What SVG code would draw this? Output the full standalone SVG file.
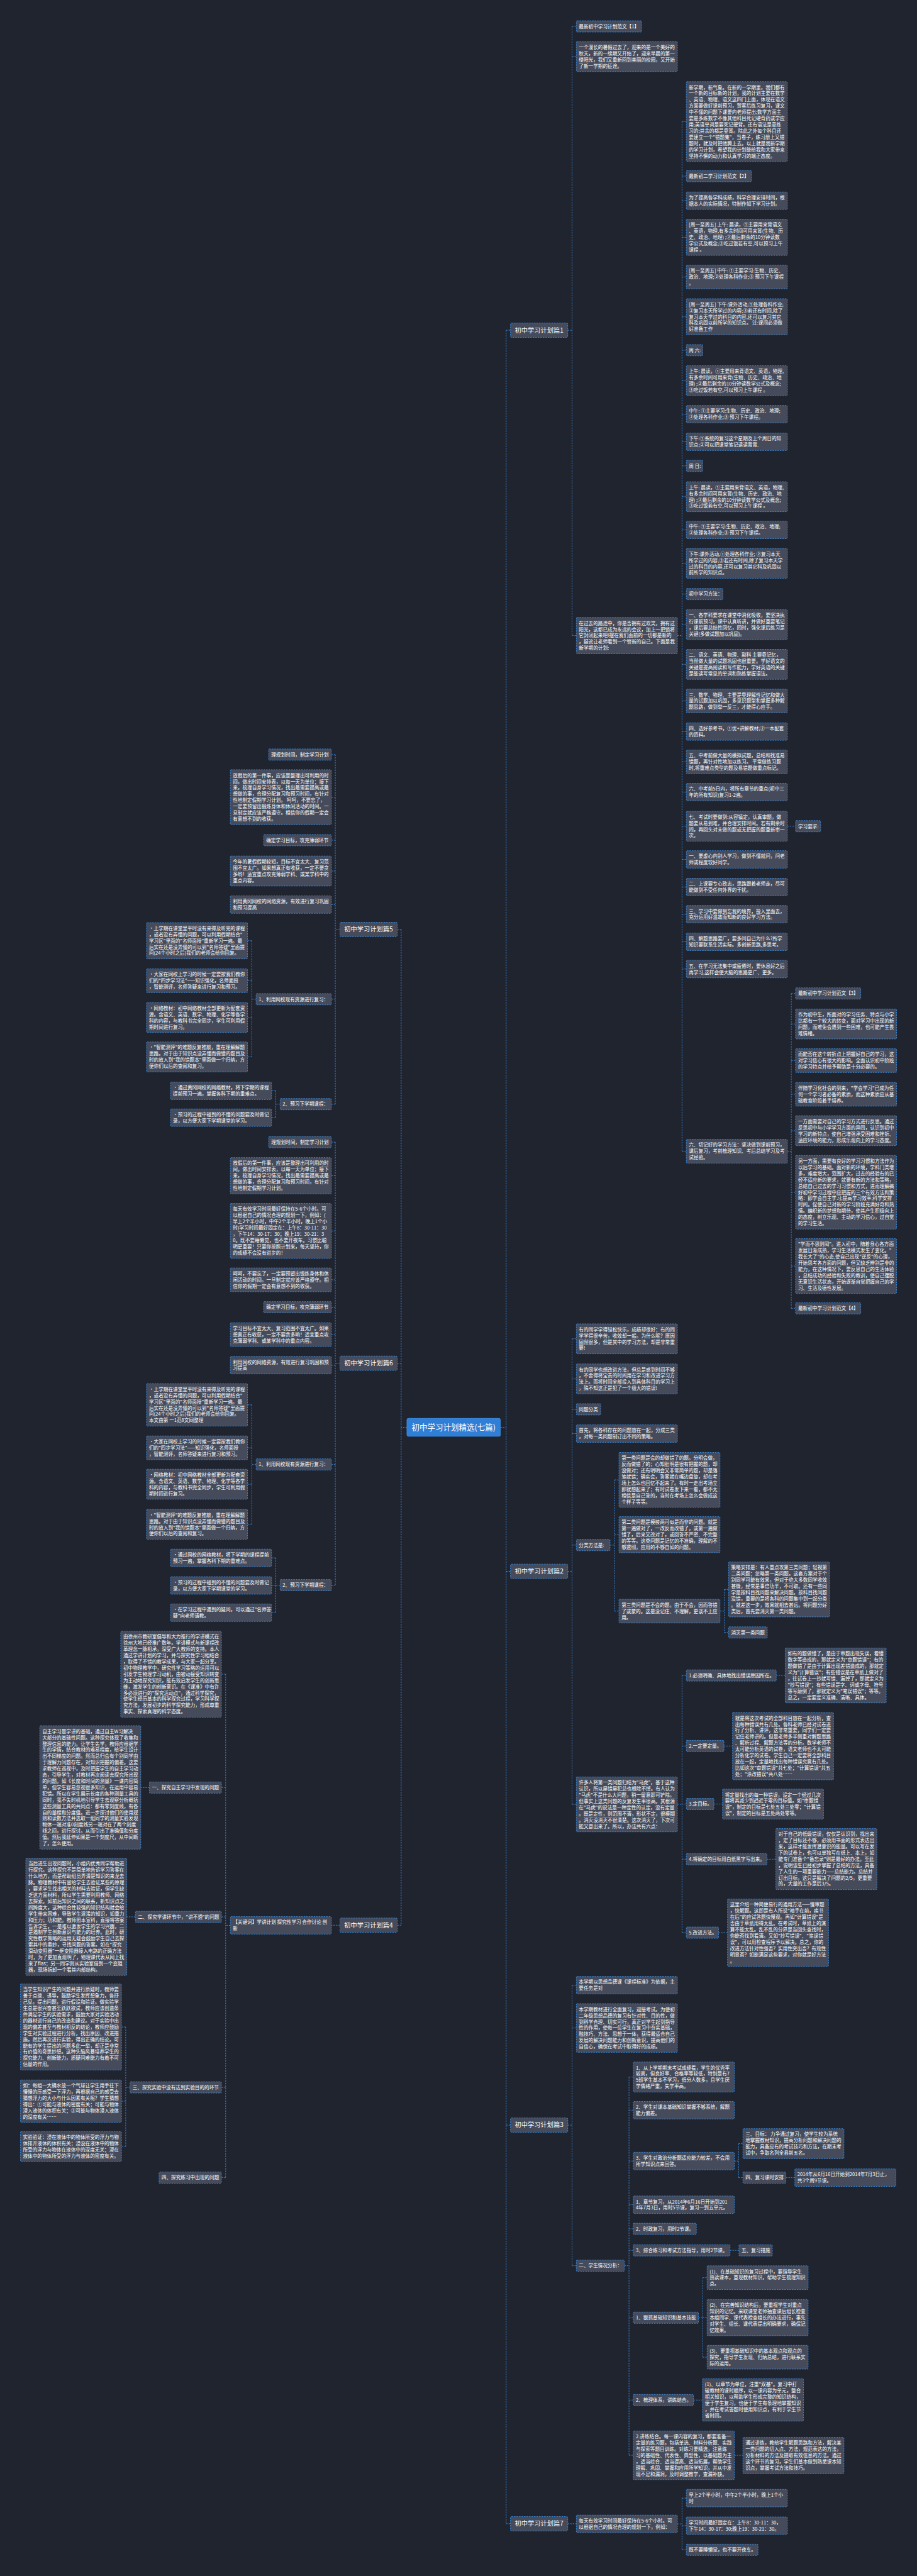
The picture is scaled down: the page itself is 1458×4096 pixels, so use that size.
<svg xmlns="http://www.w3.org/2000/svg" width="1458" height="4096" viewBox="0 0 1458 4096">
<style>
.n{fill:#454b5b;stroke:#3a8de0;stroke-width:1.6;stroke-dasharray:4 3}
.t{font-family:"Noto Sans CJK SC","Liberation Sans",sans-serif;font-size:13.4px;fill:#ffffff}
.c{fill:none;stroke:#3a8de0;stroke-width:1.6;stroke-dasharray:4 3}
.bt{font-size:18px;text-anchor:middle}
.root{fill:#2f7fd6;stroke:#3a8de0;stroke-width:1.6}
.rt{font-size:22px;text-anchor:middle}
</style>
<rect x="0" y="0" width="1458" height="4096" fill="#20242f"/>
<g transform="scale(0.569531)">
<g id="connectors">
<path class="c" d="M1397,3985H1413M1413,922V7046M1413,922H1425M1413,4387H1425M1413,5933H1425M1413,7046H1425"/>
<path class="c" d="M1136,3985H1120M1120,2595V5375M1120,2595H1109M1120,3806H1109M1120,5375H1109"/>
<path class="c" d="M1585,922H1597M1597,73.7V1774.5M1597,73.7H1609M1597,157.8H1609M1597,1774.5H1609"/>
<path class="c" d="M1891,1774.5H1904M1904,339.4V3214.1M1904,339.4H1916M1904,491.7H1916M1904,560.4H1916M1904,662.5H1916M1904,773.1H1916M1904,884.5H1916M1904,977.7H1916M1904,1062.8H1916M1904,1156.4H1916M1904,1233.4H1916M1904,1300.7H1916M1904,1386.8H1916M1904,1479.4H1916M1904,1572.8H1916M1904,1658.7H1916M1904,1743.8H1916M1904,1854.8H1916M1904,1957.1H1916M1904,2042.4H1916M1904,2127.1H1916M1904,2211.4H1916M1904,2306.8H1916M1904,2399.4H1916M1904,2476.4H1916M1904,2552.4H1916M1904,2629.4H1916M1904,2705.4H1916M1904,3214.1H1916"/>
<path class="c" d="M2198,2306.8H2221"/>
<path class="c" d="M2198,3214.1H2209M2209,2773.7V3652.7M2209,2773.7H2221M2209,2858.8H2221M2209,2961.1H2221M2209,3055.1H2221M2209,3156.8H2221M2209,3328.7H2221M2209,3534.6H2221M2209,3652.7H2221"/>
<path class="c" d="M1585,4387H1597M1597,3737.8V5037.6M1597,3737.8H1609M1597,3849.8H1609M1597,3934.7H1609M1597,4002.4H1609M1597,4313.7H1609M1597,5037.6H1609"/>
<path class="c" d="M1703,4313.7H1716M1716,4131.6V4498.1M1716,4131.6H1728M1716,4284.5H1728M1716,4498.1H1728"/>
<path class="c" d="M2010,4498.1H2022M2022,4437.6V4557.7M2022,4437.6H2034M2022,4557.7H2034"/>
<path class="c" d="M1891,5037.6H1904M1904,4677.7V5395.7M1904,4677.7H1916M1904,4874.7H1916M1904,5036.7H1916M1904,5190.7H1916M1904,5395.7H1916"/>
<path class="c" d="M2167,4677.7H2192M2021,4874.7H2045M1993,5036.7H2017M2141,5190.7H2166M2006,5395.7H2031"/>
<path class="c" d="M1585,5933H1597M1597,5542.4V6325.7M1597,5542.4H1609M1597,5661.9H1609M1597,6325.7H1609"/>
<path class="c" d="M1743,6325.7H1756M1756,5798.8V6854.9M1756,5798.8H1768M1756,5891.4H1768M1756,6033.4H1768M1756,6155.4H1768M1756,6222.7H1768M1756,6282.7H1768M1756,6470.7H1768M1756,6700.7H1768M1756,6854.9H1768"/>
<path class="c" d="M2050,6033.4H2062M2062,5984.8V6079.7M2062,5984.8H2074M2062,6079.7H2074M2194,6079.7H2219M2038,6282.7H2063"/>
<path class="c" d="M1950,6470.7H1962M1962,6359.1V6581.1M1962,6359.1H1974M1962,6470.5H1974M1962,6581.1H1974M1936,6700.7H1961M2050,6854.9H2074"/>
<path class="c" d="M1585,7046H1609M1891,7046.4H1904M1904,6974.4V7118.7M1904,6974.4H1916M1904,7051.4H1916M1904,7118.7H1916"/>
<path class="c" d="M949,2595H936M936,2106.7V3082.7M936,2106.7H925M936,2225.6H925M936,2345.7H925M936,2431.8H925M936,2525.4H925M936,2789.7H925M936,3082.7H925"/>
<path class="c" d="M715,2789.7H703M703,2626.5V2950.8M703,2626.5H691M703,2738.1H691M703,2840.8H691M703,2950.8H691"/>
<path class="c" d="M782,3082.7H770M770,3045.4V3120.4M770,3045.4H758M770,3120.4H758"/>
<path class="c" d="M949,3806H936M936,3188.7V4425.7M936,3188.7H925M936,3282.5H925M936,3436.6H925M936,3573.1H925M936,3649.7H925M936,3726.1H925M936,3811.4H925M936,4088.7H925M936,4425.7H925"/>
<path class="c" d="M715,4088.7H703M703,3922.2V4255.8M703,3922.2H691M703,4042.1H691M703,4143.8H691M703,4255.8H691"/>
<path class="c" d="M782,4425.7H770M770,4349.4V4502.4M770,4349.4H758M770,4426.4H758M770,4502.4H758"/>
<path class="c" d="M949,5375H925M643,5375.4H630M630,4674.1V6079.7M630,4674.1H618M630,4990.7H618M630,5351.7H618M630,5827.7H618M630,6079.7H618"/>
<path class="c" d="M417,4990.7H392M378,5351.7H354M363,5827.7H351M351,5659.1V5992.8M351,5659.1H339M351,5866.2H339M351,5992.8H339"/>
</g>

<g id="root"><rect class="root" x="1136" y="3960" width="261" height="50" rx="4"/><text class="t rt" x="1266.5" y="3993">初中学习计划精选(七篇)</text></g>
<g id="br1"><rect class="n" x="1425" y="902" width="160" height="40" rx="3"/><text class="t bt" x="1505" y="928">初中学习计划篇1</text></g>
<g id="br2"><rect class="n" x="1425" y="4367" width="160" height="40" rx="3"/><text class="t bt" x="1505" y="4393">初中学习计划篇2</text></g>
<g id="br3"><rect class="n" x="1425" y="5913" width="160" height="40" rx="3"/><text class="t bt" x="1505" y="5939">初中学习计划篇3</text></g>
<g id="br7"><rect class="n" x="1425" y="7026" width="160" height="40" rx="3"/><text class="t bt" x="1505" y="7052">初中学习计划篇7</text></g>
<g id="br5"><rect class="n" x="949" y="2575" width="160" height="40" rx="3"/><text class="t bt" x="1029" y="2601">初中学习计划篇5</text></g>
<g id="br6"><rect class="n" x="949" y="3786" width="160" height="40" rx="3"/><text class="t bt" x="1029" y="3812">初中学习计划篇6</text></g>
<g id="br4"><rect class="n" x="949" y="5355" width="160" height="40" rx="3"/><text class="t bt" x="1029" y="5381">初中学习计划篇4</text></g>

<g id="a1"><rect class="n" x="1609" y="58" width="182" height="31.4" rx="2"/><text class="t"><tspan x="1616" y="78.6">最新初中学习计划范文【1】</tspan></text></g>
<g id="a2"><rect class="n" x="1609" y="116" width="282" height="83.6" rx="2"/><text class="t"><tspan x="1616" y="136.6">一个漫长的暑假过去了，迎来的是一个美好的</tspan><tspan x="1616" dy="17.4">秋天，新的一续期又开始了，迎来早晨的第一</tspan><tspan x="1616" dy="17.4">缕阳光，我们又重新回到美丽的校园，又开始</tspan><tspan x="1616" dy="17.4">了新一学期的征途。</tspan></text></g>
<g id="a3"><rect class="n" x="1609" y="1724" width="282" height="101" rx="2"/><text class="t"><tspan x="1616" y="1744.6">在过去的路途中，你是否拥有过欢笑，拥有过</tspan><tspan x="1616" dy="17.4">阳光，这都已成为永远的会议，加上一把锁将</tspan><tspan x="1616" dy="17.4">它封闭起来吧!摆在我们面前的一切都是新的</tspan><tspan x="1616" dy="17.4">，疑讹让老师看到一个崭新的自己。下面是我</tspan><tspan x="1616" dy="17.4">新学期的计划:</tspan></text></g>
<g id="b1"><rect class="n" x="1916" y="228" width="282" height="222.8" rx="2"/><text class="t"><tspan x="1923" y="248.6">新学期，新气象。在新的一学期里，我们都有</tspan><tspan x="1923" dy="17.4">一个新的目标新的计划，我的计划主要在数学</tspan><tspan x="1923" dy="17.4">、英语、物理、语文这四门上面，体现在语文</tspan><tspan x="1923" dy="17.4">方面要做好课前预习，贺客后练习复习，课文</tspan><tspan x="1923" dy="17.4">中不懂的问题下课要向老师提出;数学方面主</tspan><tspan x="1923" dy="17.4">要是多练数学不像其他科目死记硬背药或学应</tspan><tspan x="1923" dy="17.4">用;英语单词是要死记硬背。还有语法是靠练</tspan><tspan x="1923" dy="17.4">习的;其余的都是靠背。除此之外每个科目还</tspan><tspan x="1923" dy="17.4">要建立一个"错题集"，当卷子，练习册上又错</tspan><tspan x="1923" dy="17.4">题时，就及时把他腾上去。以上就是我新学期</tspan><tspan x="1923" dy="17.4">的学习计划，希望我的计划能给我和大家带来</tspan><tspan x="1923" dy="17.4">坚持不懈的动力和认真学习的端正态度。</tspan></text></g>
<g id="b2"><rect class="n" x="1916" y="476" width="182" height="31.4" rx="2"/><text class="t"><tspan x="1923" y="496.6">最新初二学习计划范文【2】</tspan></text></g>
<g id="b3"><rect class="n" x="1916" y="536" width="282" height="48.8" rx="2"/><text class="t"><tspan x="1923" y="556.6">为了提高各学科成绩，科学合理安排时间，根</tspan><tspan x="1923" dy="17.4">据本人的实际情况，特制作如下学习计划。</tspan></text></g>
<g id="b4"><rect class="n" x="1916" y="612" width="282" height="101" rx="2"/><text class="t"><tspan x="1923" y="632.6">[周一至周五] 上午: 晨读，①主要用来背语文</tspan><tspan x="1923" dy="17.4">、英语，物理,有多余时间可用来背(生物、历</tspan><tspan x="1923" dy="17.4">史、政治、地理) ;②最后剩余的10分钟读数</tspan><tspan x="1923" dy="17.4">学公式及概念;③吃过饭若有空,可以预习上午</tspan><tspan x="1923" dy="17.4">课程 。</tspan></text></g>
<g id="b5"><rect class="n" x="1916" y="740" width="282" height="66.2" rx="2"/><text class="t"><tspan x="1923" y="760.6">[周一至周五] 中午: ①主要学习:生物、历史、</tspan><tspan x="1923" dy="17.4">政治、地理;②处理各科作业;③ 预习下午课程</tspan><tspan x="1923" dy="17.4">。</tspan></text></g>
<g id="b6"><rect class="n" x="1916" y="834" width="282" height="101" rx="2"/><text class="t"><tspan x="1923" y="854.6">[周一至周五] 下午:课外活动,①处理各科作业;</tspan><tspan x="1923" dy="17.4">②复习本天所学过的内容;③若还有时间,除了</tspan><tspan x="1923" dy="17.4">复习本天学过的科目的内容,还可以复习其它</tspan><tspan x="1923" dy="17.4">科及巩固以前所学的知识点。 注:课间必须做</tspan><tspan x="1923" dy="17.4">好准备工作</tspan></text></g>
<g id="b7"><rect class="n" x="1916" y="962" width="46" height="31.4" rx="2"/><text class="t"><tspan x="1923" y="982.6">周 六:</tspan></text></g>
<g id="b8"><rect class="n" x="1916" y="1021" width="282" height="83.6" rx="2"/><text class="t"><tspan x="1923" y="1041.6">上午: 晨读，①主要用来背语文、英语，物理,</tspan><tspan x="1923" dy="17.4">有多余时间可用来背(生物、历史、政治、地</tspan><tspan x="1923" dy="17.4">理) ;②最后剩余的10分钟读数学公式及概念;</tspan><tspan x="1923" dy="17.4">③吃过饭若有空,可以预习上午课程 。</tspan></text></g>
<g id="b9"><rect class="n" x="1916" y="1132" width="282" height="48.8" rx="2"/><text class="t"><tspan x="1923" y="1152.6">中午: ①主要学习:生物、历史、政治、地理;</tspan><tspan x="1923" dy="17.4">②处理各科作业;③ 预习下午课程。</tspan></text></g>
<g id="b10"><rect class="n" x="1916" y="1209" width="282" height="48.8" rx="2"/><text class="t"><tspan x="1923" y="1229.6">下午:①系统的复习这个星期及上个周日的知</tspan><tspan x="1923" dy="17.4">识点;②可以把课堂笔记读读背背.</tspan></text></g>
<g id="b11"><rect class="n" x="1916" y="1285" width="46" height="31.4" rx="2"/><text class="t"><tspan x="1923" y="1305.6">周 日:</tspan></text></g>
<g id="b12"><rect class="n" x="1916" y="1345" width="282" height="83.6" rx="2"/><text class="t"><tspan x="1923" y="1365.6">上午: 晨读，①主要用来背语文、英语，物理,</tspan><tspan x="1923" dy="17.4">有多余时间可用来背(生物、历史、政治、地</tspan><tspan x="1923" dy="17.4">理) ;②最后剩余的10分钟读数学公式及概念;</tspan><tspan x="1923" dy="17.4">③吃过饭若有空,可以预习上午课程 。</tspan></text></g>
<g id="b13"><rect class="n" x="1916" y="1455" width="282" height="48.8" rx="2"/><text class="t"><tspan x="1923" y="1475.6">中午: ①主要学习:生物、历史、政治、地理;</tspan><tspan x="1923" dy="17.4">②处理各科作业;③ 预习下午课程。</tspan></text></g>
<g id="b14"><rect class="n" x="1916" y="1531" width="282" height="83.6" rx="2"/><text class="t"><tspan x="1923" y="1551.6">下午:课外活动,①处理各科作业; ②复习本天</tspan><tspan x="1923" dy="17.4">所学过的内容;③若还有时间,除了复习本天学</tspan><tspan x="1923" dy="17.4">过的科目的内容,还可以复习其它科及巩固以</tspan><tspan x="1923" dy="17.4">前所学的知识点。</tspan></text></g>
<g id="b15"><rect class="n" x="1916" y="1643" width="102" height="31.4" rx="2"/><text class="t"><tspan x="1923" y="1663.6">初中学习方法：</tspan></text></g>
<g id="b16"><rect class="n" x="1916" y="1702" width="282" height="83.6" rx="2"/><text class="t"><tspan x="1923" y="1722.6">一、各学科要求在课堂中消化吸收，要坚决执</tspan><tspan x="1923" dy="17.4">行课前预习，课中认真听讲，并做好重要笔记</tspan><tspan x="1923" dy="17.4">，课后要总结性回忆，同时，强化课后练习是</tspan><tspan x="1923" dy="17.4">关键(多做试题加以巩固)。</tspan></text></g>
<g id="b17"><rect class="n" x="1916" y="1813" width="282" height="83.6" rx="2"/><text class="t"><tspan x="1923" y="1833.6">二、语文、英语、物理、副科 主要靠记忆，</tspan><tspan x="1923" dy="17.4">当然做大量的试题巩固也很重要。学好语文的</tspan><tspan x="1923" dy="17.4">关键是提高阅读和写作能力，学好英语的关键</tspan><tspan x="1923" dy="17.4">是能读写常见的单词和熟练掌握语法。</tspan></text></g>
<g id="b18"><rect class="n" x="1916" y="1924" width="282" height="66.2" rx="2"/><text class="t"><tspan x="1923" y="1944.6">三、数学、物理、主要是靠理解性记忆和做大</tspan><tspan x="1923" dy="17.4">量的试题加以巩固，多见识题型和掌握多种解</tspan><tspan x="1923" dy="17.4">题思路，做到举一反三，才能得心应手。</tspan></text></g>
<g id="b19"><rect class="n" x="1916" y="2018" width="282" height="48.8" rx="2"/><text class="t"><tspan x="1923" y="2038.6">四、选好参考书，①优+讲解教材;②一本配套</tspan><tspan x="1923" dy="17.4">的资料。</tspan></text></g>
<g id="b20"><rect class="n" x="1916" y="2094" width="282" height="66.2" rx="2"/><text class="t"><tspan x="1923" y="2114.6">五、中考前做大量的模拟试题，总结和找准易</tspan><tspan x="1923" dy="17.4">错题，再针对性地加以练习。 平常做练习题</tspan><tspan x="1923" dy="17.4">时,将重难点类型的题及易错题做重点标记。</tspan></text></g>
<g id="b21"><rect class="n" x="1916" y="2187" width="282" height="48.8" rx="2"/><text class="t"><tspan x="1923" y="2207.6">六、中考前5日内，将所有章节的重点(初中三</tspan><tspan x="1923" dy="17.4">年的所有知识)复习1-2遍。</tspan></text></g>
<g id="b22"><rect class="n" x="1916" y="2265" width="282" height="83.6" rx="2"/><text class="t"><tspan x="1923" y="2285.6">七、考试时要做到:从容镇定，认真审题，做</tspan><tspan x="1923" dy="17.4">题要从易到难，并合理安排时间。若有剩余时</tspan><tspan x="1923" dy="17.4">间，再回头对未做的题或无把握的题重新审一</tspan><tspan x="1923" dy="17.4">次。</tspan></text></g>
<g id="b22a"><rect class="n" x="2221" y="2291" width="70" height="31.4" rx="2"/><text class="t"><tspan x="2228" y="2311.6">学习要求:</tspan></text></g>
<g id="b23"><rect class="n" x="1916" y="2375" width="282" height="48.8" rx="2"/><text class="t"><tspan x="1923" y="2395.6">一、要虚心向别人学习，做到不懂就问，问老</tspan><tspan x="1923" dy="17.4">师或程度较好同学。</tspan></text></g>
<g id="b24"><rect class="n" x="1916" y="2452" width="282" height="48.8" rx="2"/><text class="t"><tspan x="1923" y="2472.6">二、上课要专心致志，思路跟着老师走，尽可</tspan><tspan x="1923" dy="17.4">能做到不受任何外界的干扰。</tspan></text></g>
<g id="b25"><rect class="n" x="1916" y="2528" width="282" height="48.8" rx="2"/><text class="t"><tspan x="1923" y="2548.6">三、学习中要做到忘我的境界，投入里面去，</tspan><tspan x="1923" dy="17.4">充分运用好温故而知新的良好学习方法。</tspan></text></g>
<g id="b26"><rect class="n" x="1916" y="2605" width="282" height="48.8" rx="2"/><text class="t"><tspan x="1923" y="2625.6">四、解题思路要广，要多问自己为什么?所学</tspan><tspan x="1923" dy="17.4">知识要联系生活实际。多创新思路,多思考。</tspan></text></g>
<g id="b27"><rect class="n" x="1916" y="2681" width="282" height="48.8" rx="2"/><text class="t"><tspan x="1923" y="2701.6">五、在学习无法集中或疲倦时，要休息好之后</tspan><tspan x="1923" dy="17.4">再学习,这样会使大脑的思路更广、更多。</tspan></text></g>
<g id="b28"><rect class="n" x="1916" y="3181" width="282" height="66.2" rx="2"/><text class="t"><tspan x="1923" y="3201.6">六、切记好的学习方法：坚决做到课前预习，</tspan><tspan x="1923" dy="17.4">课后复习，考前梳理知识、考后总结学习及考</tspan><tspan x="1923" dy="17.4">试经验。</tspan></text></g>
<g id="c1"><rect class="n" x="2221" y="2758" width="182" height="31.4" rx="2"/><text class="t"><tspan x="2228" y="2778.6">最新初中学习计划范文【3】</tspan></text></g>
<g id="c2"><rect class="n" x="2221" y="2817" width="282" height="83.6" rx="2"/><text class="t"><tspan x="2228" y="2837.6">作为初中生，所面对的学习任务、特点与小学</tspan><tspan x="2228" dy="17.4">比都有一个较大的转变，面对学习中出现的新</tspan><tspan x="2228" dy="17.4">问题，而难免会遇到一些困难，也可能产生畏</tspan><tspan x="2228" dy="17.4">难情绪。</tspan></text></g>
<g id="c3"><rect class="n" x="2221" y="2928" width="282" height="66.2" rx="2"/><text class="t"><tspan x="2228" y="2948.6">而能否在这个转折点上把握好自己的学习，这</tspan><tspan x="2228" dy="17.4">对学习信心有很大的影响。全面认识初中阶段</tspan><tspan x="2228" dy="17.4">的学习特点并给予帮助是十分必要的。</tspan></text></g>
<g id="c4"><rect class="n" x="2221" y="3022" width="282" height="66.2" rx="2"/><text class="t"><tspan x="2228" y="3042.6">伴随学习化社会的到来，"学会学习"已成为任</tspan><tspan x="2228" dy="17.4">何一个学习者必备的素质，而这种素质应从基</tspan><tspan x="2228" dy="17.4">础教育阶段着手培养。</tspan></text></g>
<g id="c5"><rect class="n" x="2221" y="3115" width="282" height="83.6" rx="2"/><text class="t"><tspan x="2228" y="3135.6">一方面需要对自己的学习方式进行反思。通过</tspan><tspan x="2228" dy="17.4">反思初中与小学学习方面的异同，认识到初中</tspan><tspan x="2228" dy="17.4">学习的新特点，使自己增强承受困难和挫折、</tspan><tspan x="2228" dy="17.4">适应环境的能力，形成乐观向上的学习态度。</tspan></text></g>
<g id="c6"><rect class="n" x="2221" y="3226" width="282" height="205.4" rx="2"/><text class="t"><tspan x="2228" y="3246.6">另一方面，需要有良好的学习习惯和方法作为</tspan><tspan x="2228" dy="17.4">以后学习的基础。面对新的环境，学科门类增</tspan><tspan x="2228" dy="17.4">多，难度增大，范围扩大，过去的经验有的已</tspan><tspan x="2228" dy="17.4">经不适应新的要求，就要有新的方法和策略，</tspan><tspan x="2228" dy="17.4">总结自己过去的学习习惯和方式，进而理解搞</tspan><tspan x="2228" dy="17.4">好初中学习过程中应把握的三个有效方法和策</tspan><tspan x="2228" dy="17.4">略：即学会自主学习;提高学习效率;科学安排</tspan><tspan x="2228" dy="17.4">时间。促使自己对新的学习阶段充满好奇和热</tspan><tspan x="2228" dy="17.4">情。编织新的梦想和期待，使其产生积极向上</tspan><tspan x="2228" dy="17.4">的态度，树立乐观、主动的学习信心，过自觉</tspan><tspan x="2228" dy="17.4">的学习生活。</tspan></text></g>
<g id="c7"><rect class="n" x="2221" y="3458" width="282" height="153.2" rx="2"/><text class="t"><tspan x="2228" y="3478.6">"学而不思则罔"。进入初中，随着身心各方面</tspan><tspan x="2228" dy="17.4">发展日渐成熟，学习生活模式发生了变化。"</tspan><tspan x="2228" dy="17.4">我长大了"的心态,使自己出现"逆反"的心理，</tspan><tspan x="2228" dy="17.4">开始思考各方面的问题，但又缺乏辨别是非的</tspan><tspan x="2228" dy="17.4">能力，在这种情况下，要反思自己的生活体验</tspan><tspan x="2228" dy="17.4">，总结成功的经验和失败的教训，使自己摆脱</tspan><tspan x="2228" dy="17.4">无意识生活状态，开始逐渐自觉把握自己的学</tspan><tspan x="2228" dy="17.4">习、生活及德性发展。</tspan></text></g>
<g id="c8"><rect class="n" x="2221" y="3637" width="182" height="31.4" rx="2"/><text class="t"><tspan x="2228" y="3657.6">最新初中学习计划范文【4】</tspan></text></g>

<g id="d1"><rect class="n" x="1609" y="3696" width="282" height="83.6" rx="2"/><text class="t"><tspan x="1616" y="3716.6">有的同学学得轻松快乐，成绩却很好；有的同</tspan><tspan x="1616" dy="17.4">学学得很辛苦，收效却一般。为什么呢？原因</tspan><tspan x="1616" dy="17.4">固然很多，但是其中的学习方法，却是非常重</tspan><tspan x="1616" dy="17.4">要!</tspan></text></g>
<g id="d2"><rect class="n" x="1609" y="3808" width="282" height="83.6" rx="2"/><text class="t"><tspan x="1616" y="3828.6">有的同学也想改进方法，但总是感到时间不够</tspan><tspan x="1616" dy="17.4">，不舍得将宝贵的时间用在学习和改进学习方</tspan><tspan x="1616" dy="17.4">法上。而将时间全部投入到具体科目的学习上</tspan><tspan x="1616" dy="17.4">，殊不知这正是犯了一个极大的错误!</tspan></text></g>
<g id="d3"><rect class="n" x="1609" y="3919" width="68" height="31.4" rx="2"/><text class="t"><tspan x="1616" y="3939.6">问题分类</tspan></text></g>
<g id="d4"><rect class="n" x="1609" y="3978" width="282" height="48.8" rx="2"/><text class="t"><tspan x="1616" y="3998.6">首先，将各科存在的问题放在一起，分成三类</tspan><tspan x="1616" dy="17.4">，对每一类问题制订出不同的策略。</tspan></text></g>
<g id="d5"><rect class="n" x="1609" y="4298" width="94" height="31.4" rx="2"/><text class="t"><tspan x="1616" y="4318.6">分类方法是:</tspan></text></g>
<g id="e1"><rect class="n" x="1728" y="4055" width="282" height="153.2" rx="2"/><text class="t"><tspan x="1735" y="4075.6">第一类问题是会的却做错了的题。分明会做，</tspan><tspan x="1735" dy="17.4">反而做错了的；心知肚明是很有把握的题，却</tspan><tspan x="1735" dy="17.4">没做对；还有明明会又非常简单的题，却是落</tspan><tspan x="1735" dy="17.4">笔就错；确实会，答案就在嘴边盘旋，却在考</tspan><tspan x="1735" dy="17.4">场上怎么也回忆不起来了。有时一走出考场立</tspan><tspan x="1735" dy="17.4">即就想起来了；有时试卷发下来一看，都不太</tspan><tspan x="1735" dy="17.4">相信是自己答的，当时在考场上怎么会做成这</tspan><tspan x="1735" dy="17.4">个样子等等。</tspan></text></g>
<g id="e2"><rect class="n" x="1728" y="4234" width="282" height="101" rx="2"/><text class="t"><tspan x="1735" y="4254.6">第二类问题是模棱两可似是而非的问题。就是</tspan><tspan x="1735" dy="17.4">第一遍做对了，一改反而改错了，或第一遍做</tspan><tspan x="1735" dy="17.4">错了，后来又改对了，或回答不严密、不完整</tspan><tspan x="1735" dy="17.4">的等等。这类问题是记忆的不准确，理解的不</tspan><tspan x="1735" dy="17.4">够透彻，应用的不够自如的问题。</tspan></text></g>
<g id="e3"><rect class="n" x="1728" y="4465" width="282" height="66.2" rx="2"/><text class="t"><tspan x="1735" y="4485.6">第三类问题是不会的题。由于不会，因而答错</tspan><tspan x="1735" dy="17.4">了或蒙的。这是没记住、不理解，更谈不上应</tspan><tspan x="1735" dy="17.4">用。</tspan></text></g>
<g id="f1"><rect class="n" x="2034" y="4361" width="282" height="153.2" rx="2"/><text class="t"><tspan x="2041" y="4381.6">策略安排是：有人重点攻第三类问题；轻视第</tspan><tspan x="2041" dy="17.4">二类问题；忽略第一类问题。这套方案对于个</tspan><tspan x="2041" dy="17.4">别同学可能有效果，但对于绝大多数同学收效</tspan><tspan x="2041" dy="17.4">甚微，经常是事倍功半，不可取。还有一些同</tspan><tspan x="2041" dy="17.4">学是按科目找问题来解决问题。按科目找问题</tspan><tspan x="2041" dy="17.4">没错，重要的是将各科的问题集中到一起分类</tspan><tspan x="2041" dy="17.4">。就差这一步，效果就相去甚远。将问题分好</tspan><tspan x="2041" dy="17.4">类后，首先要消灭第一类问题。</tspan></text></g>
<g id="f2"><rect class="n" x="2034" y="4542" width="108" height="31.4" rx="2"/><text class="t"><tspan x="2041" y="4562.6">消灭第一类问题</tspan></text></g>
<g id="d6"><rect class="n" x="1609" y="4961" width="282" height="153.2" rx="2"/><text class="t"><tspan x="1616" y="4981.6">许多人将第一类问题归结为"马虎"，基于这种</tspan><tspan x="1616" dy="17.4">认识，所以屡错屡犯总也根除不掉。有人认为</tspan><tspan x="1616" dy="17.4">"马虎"不是什么大问题，稍一留意即可铲除。</tspan><tspan x="1616" dy="17.4">但事实上这类问题的反复发生率很高。其根源</tspan><tspan x="1616" dy="17.4">在"马虎"的说法是一种定性的认定，没有定量</tspan><tspan x="1616" dy="17.4">。既是定性，则范围不清，形状不定，很模糊</tspan><tspan x="1616" dy="17.4">。消灭没消灭不很清楚。这次消灭了，下次可</tspan><tspan x="1616" dy="17.4">能又冒出来了。所以，办法共有六点：</tspan></text></g>
<g id="g1"><rect class="n" x="1916" y="4662" width="251" height="31.4" rx="2"/><text class="t"><tspan x="1923" y="4682.6">1.必须明确、具体地找出错误原因所在。</tspan></text></g>
<g id="h1"><rect class="n" x="2192" y="4601" width="282" height="153.2" rx="2"/><text class="t"><tspan x="2199" y="4621.6">如有的题做错了，是由于审题出现失误，看错</tspan><tspan x="2199" dy="17.4">数字等造成的，那就定义为"审题错误"；有的</tspan><tspan x="2199" dy="17.4">题做错了是由于计算出现差错造成的，那就定</tspan><tspan x="2199" dy="17.4">义为"计算错误"；有些错误是在草纸上做对了</tspan><tspan x="2199" dy="17.4">，往试卷上一抄就写错、漏掉了，那就定义为</tspan><tspan x="2199" dy="17.4">"抄写错误"；有些错误是字、词或字母、符号</tspan><tspan x="2199" dy="17.4">等写颠倒了，那就定义为"笔误错误"；等等。</tspan><tspan x="2199" dy="17.4">总之，一定要定义准确、清晰、具体。</tspan></text></g>
<g id="g2"><rect class="n" x="1916" y="4859" width="105" height="31.4" rx="2"/><text class="t"><tspan x="1923" y="4879.6">2.一定要定量。</tspan></text></g>
<g id="h2"><rect class="n" x="2045" y="4781" width="282" height="188" rx="2"/><text class="t"><tspan x="2052" y="4801.6">就是将这次考试的全部科目放在一起分析，查</tspan><tspan x="2052" dy="17.4">出每种错误共有几处。各科老师已经对试卷进</tspan><tspan x="2052" dy="17.4">行了分析、讲评，这非常重要，同学们一定要</tspan><tspan x="2052" dy="17.4">记住老师讲的。但是老师多半侧重对解题思路</tspan><tspan x="2052" dy="17.4">、解析过程、解题方法等的分析。数学老师不</tspan><tspan x="2052" dy="17.4">太可能分析英语的试卷，语文老师也不太可能</tspan><tspan x="2052" dy="17.4">分析化学的试卷。学生自己一定要将全部科目</tspan><tspan x="2052" dy="17.4">放在一起，定量地找出每种错误究竟有几处。</tspan><tspan x="2052" dy="17.4">比如这次"审题错误"共七处；"计算错误"共五</tspan><tspan x="2052" dy="17.4">处；"涂改错误"共八处……</tspan></text></g>
<g id="g3"><rect class="n" x="1916" y="5021" width="77" height="31.4" rx="2"/><text class="t"><tspan x="1923" y="5041.6">3.定目标。</tspan></text></g>
<g id="h3"><rect class="n" x="2017" y="4995" width="282" height="83.6" rx="2"/><text class="t"><tspan x="2024" y="5015.6">将定量找出的每一种错误，设定一个经过几次</tspan><tspan x="2024" dy="17.4">要将其减少到趋近于零的目标值。如"审题错</tspan><tspan x="2024" dy="17.4">误"，制定的目标是七处五处三处零；"计算错</tspan><tspan x="2024" dy="17.4">误"，制定的目标是五处两处零等。</tspan></text></g>
<g id="g4"><rect class="n" x="1916" y="5175" width="225" height="31.4" rx="2"/><text class="t"><tspan x="1923" y="5195.6">4.将确定的目标用白纸黑字写出来。</tspan></text></g>
<g id="h4"><rect class="n" x="2166" y="5105" width="282" height="170.6" rx="2"/><text class="t"><tspan x="2173" y="5125.6">对于自己的低级错误，仅仅是认识到，找出来</tspan><tspan x="2173" dy="17.4">，定了目标还不够，必须用书面的形式表达出</tspan><tspan x="2173" dy="17.4">来，这样才能发挥潜意识的能量。可以写在发</tspan><tspan x="2173" dy="17.4">下的试卷上，也可以单独写在纸上、本上，如</tspan><tspan x="2173" dy="17.4">能专门准备个"备忘录"则是最好的办法。至此</tspan><tspan x="2173" dy="17.4">，说明该生已经初步掌握了总结的方法，具备</tspan><tspan x="2173" dy="17.4">了人生的一项重要能力——总结能力。总结并</tspan><tspan x="2173" dy="17.4">订出目标，这只是解决了问题的2/5，更重要</tspan><tspan x="2173" dy="17.4">的，大量的工作是后3/5。</tspan></text></g>
<g id="g5"><rect class="n" x="1916" y="5380" width="90" height="31.4" rx="2"/><text class="t"><tspan x="1923" y="5400.6">5.改进方法。</tspan></text></g>
<g id="h5"><rect class="n" x="2031" y="5302" width="282" height="188" rx="2"/><text class="t"><tspan x="2038" y="5322.6">这里介绍一种简便易行的通用方法——慢审题</tspan><tspan x="2038" dy="17.4">，快解题。这即是有人所说"袖手在前，疾书</tspan><tspan x="2038" dy="17.4">在后"的应试答题快慢观。再如"计算错误"是</tspan><tspan x="2038" dy="17.4">否由于草纸用得太乱。在考试时，草纸上的演</tspan><tspan x="2038" dy="17.4">算不能太乱。乱不乱的分界是当回头查找时，</tspan><tspan x="2038" dy="17.4">你能否找到看清。又如"抄写错误"、"笔误错</tspan><tspan x="2038" dy="17.4">误"，可以用检查程序予以解决。总之，你的</tspan><tspan x="2038" dy="17.4">改进方法针对性强否？实用性突出否？有效性</tspan><tspan x="2038" dy="17.4">明显否？如能满足这些要求，对你就是好方法</tspan><tspan x="2038" dy="17.4">。</tspan></text></g>

<g id="i1"><rect class="n" x="1609" y="5518" width="282" height="48.8" rx="2"/><text class="t"><tspan x="1616" y="5538.6">本学期以思想品德课《课程标准》为依据，主</tspan><tspan x="1616" dy="17.4">要任务是对</tspan></text></g>
<g id="i2"><rect class="n" x="1609" y="5594" width="282" height="135.8" rx="2"/><text class="t"><tspan x="1616" y="5614.6">本学期教材进行全面复习，迎接考试。为使初</tspan><tspan x="1616" dy="17.4">二年级思想品德的复习有针对性、目的性，做</tspan><tspan x="1616" dy="17.4">到科学合理、切实可行，真正对学生起到指导</tspan><tspan x="1616" dy="17.4">性的作用，使每一位学生在复习中夯实基础，</tspan><tspan x="1616" dy="17.4">融技巧、方法、思想于一体，获得最适合自己</tspan><tspan x="1616" dy="17.4">发展的解决问题能力和创新意识，提高他们的</tspan><tspan x="1616" dy="17.4">自信心，确保在考试中取得好的成绩。</tspan></text></g>
<g id="i3"><rect class="n" x="1609" y="6310" width="134" height="31.4" rx="2"/><text class="t"><tspan x="1616" y="6330.6">二、学生情况分析：</tspan></text></g>
<g id="j1"><rect class="n" x="1768" y="5757" width="282" height="83.6" rx="2"/><text class="t"><tspan x="1775" y="5777.6">1、从上学期期末考试成绩看，学生的优秀率</tspan><tspan x="1775" dy="17.4">较高，但良好率、合格率等较低，特别是有7</tspan><tspan x="1775" dy="17.4">5班学生基本不学习，低分人数多，且学生厌</tspan><tspan x="1775" dy="17.4">学情绪严重，失学率高。</tspan></text></g>
<g id="j2"><rect class="n" x="1768" y="5867" width="282" height="48.8" rx="2"/><text class="t"><tspan x="1775" y="5887.6">2、学生对课本基础知识掌握不够系统，解题</tspan><tspan x="1775" dy="17.4">能力偏差。</tspan></text></g>
<g id="j3"><rect class="n" x="1768" y="6009" width="282" height="48.8" rx="2"/><text class="t"><tspan x="1775" y="6029.6">3、学生对政治分析题适应能力较差，不会用</tspan><tspan x="1775" dy="17.4">所学知识点来回答。</tspan></text></g>
<g id="k1"><rect class="n" x="2074" y="5943" width="282" height="83.6" rx="2"/><text class="t"><tspan x="2081" y="5963.6">三、目标： 力争通过复习，使学生较为系统</tspan><tspan x="2081" dy="17.4">地掌握教材知识，提高分析问题和解决问题的</tspan><tspan x="2081" dy="17.4">能力，具备应有的考试技巧和方法，在期末考</tspan><tspan x="2081" dy="17.4">试中，争取名列全县前五名。</tspan></text></g>
<g id="k2"><rect class="n" x="2074" y="6064" width="120" height="31.4" rx="2"/><text class="t"><tspan x="2081" y="6084.6">四、复习课时安排</tspan></text></g>
<g id="l1"><rect class="n" x="2219" y="6055.3" width="282" height="48.8" rx="2"/><text class="t"><tspan x="2226" y="6075.9">2014年从6月16日开始到2014年7月3日止，</tspan><tspan x="2226" dy="17.4">共3个周9节课。</tspan></text></g>
<g id="j4"><rect class="n" x="1768" y="6131" width="282" height="48.8" rx="2"/><text class="t"><tspan x="1775" y="6151.6">1、章节复习，从2014年6月16日开始到201</tspan><tspan x="1775" dy="17.4">4年7月3日，用时5节课，复习一到五单元。</tspan></text></g>
<g id="j5"><rect class="n" x="1768" y="6207" width="176" height="31.4" rx="2"/><text class="t"><tspan x="1775" y="6227.6">2、时政复习，用时2节课。</tspan></text></g>
<g id="j6"><rect class="n" x="1768" y="6267" width="270" height="31.4" rx="2"/><text class="t"><tspan x="1775" y="6287.6">3、综合练习和考试方法指导，用时2节课。</tspan></text></g>
<g id="j6a"><rect class="n" x="2063" y="6267" width="93" height="31.4" rx="2"/><text class="t"><tspan x="2070" y="6287.6">五、复习措施</tspan></text></g>
<g id="j7"><rect class="n" x="1768" y="6455" width="182" height="31.4" rx="2"/><text class="t"><tspan x="1775" y="6475.6">1、狠抓基础知识和基本技能</tspan></text></g>
<g id="m1"><rect class="n" x="1974" y="6326" width="282" height="66.2" rx="2"/><text class="t"><tspan x="1981" y="6346.6">(1)、在基础知识的复习过程中，要指导学生</tspan><tspan x="1981" dy="17.4">熟读课本，重现教材知识，帮助学生梳理知识</tspan><tspan x="1981" dy="17.4">点。</tspan></text></g>
<g id="m2"><rect class="n" x="1974" y="6420" width="282" height="101" rx="2"/><text class="t"><tspan x="1981" y="6440.6">(2)、在完善知识结构后，要重视学生对重点</tspan><tspan x="1981" dy="17.4">知识的记忆。采取课堂老师抽查课后组长检查</tspan><tspan x="1981" dy="17.4">本组同学、课代表检查组长的办法进行，事先</tspan><tspan x="1981" dy="17.4">对学生、组长、课代表提出明确要求，确保记</tspan><tspan x="1981" dy="17.4">忆效果。</tspan></text></g>
<g id="m3"><rect class="n" x="1974" y="6548" width="282" height="66.2" rx="2"/><text class="t"><tspan x="1981" y="6568.6">(3)、要重视基础知识中的基本观点和观点的</tspan><tspan x="1981" dy="17.4">探究，指导学生发现、归纳总结，进行联系实</tspan><tspan x="1981" dy="17.4">际的运用。</tspan></text></g>
<g id="j8"><rect class="n" x="1768" y="6685" width="168" height="31.4" rx="2"/><text class="t"><tspan x="1775" y="6705.6">2、梳理体系，讲练结合。</tspan></text></g>
<g id="n1"><rect class="n" x="1961" y="6641" width="282" height="118.4" rx="2"/><text class="t"><tspan x="1968" y="6661.6">(1)、以章节为单位，注重"双基"。复习中打</tspan><tspan x="1968" dy="17.4">破教材的课时顺序，以一课内容为单元，整合</tspan><tspan x="1968" dy="17.4">相关知识，以帮助学生形成完整的知识结构，</tspan><tspan x="1968" dy="17.4">便于学生复习，也便于学生有条理地掌握知识</tspan><tspan x="1968" dy="17.4">，并在考试答题时使用知识点，有利于学生节</tspan><tspan x="1968" dy="17.4">省时间。</tspan></text></g>
<g id="j9"><rect class="n" x="1768" y="6787" width="282" height="135.8" rx="2"/><text class="t"><tspan x="1775" y="6807.6">2.讲练结合。每一课内容的复习，都要准备一</tspan><tspan x="1775" dy="17.4">定量的练习题，包括单选、材料分析题、实践</tspan><tspan x="1775" dy="17.4">与探索等题目训练。对练习要精选，注意练</tspan><tspan x="1775" dy="17.4">习的基础性、代表性、典型性，以基础题为主</tspan><tspan x="1775" dy="17.4">，适当综合、适当提高、适当拓展，帮助学生</tspan><tspan x="1775" dy="17.4">理解、巩固、掌握和应用所学知识，并从中发</tspan><tspan x="1775" dy="17.4">现不足和漏洞，及时调整教学，查漏补缺。</tspan></text></g>
<g id="n2"><rect class="n" x="2074" y="6805" width="282" height="101" rx="2"/><text class="t"><tspan x="2081" y="6825.6">通过讲练，教给学生解题思路和方法，解决某</tspan><tspan x="2081" dy="17.4">一类问题的切入点、方法，规范表达的方法，</tspan><tspan x="2081" dy="17.4">分析材料的方法及提取有效信息的方法。通过</tspan><tspan x="2081" dy="17.4">这个环节的复习，学生们基本做到熟悉课本知</tspan><tspan x="2081" dy="17.4">识点，掌握考试方法和技巧。</tspan></text></g>
<g id="o1"><rect class="n" x="1609" y="7022" width="282" height="48.8" rx="2"/><text class="t"><tspan x="1616" y="7042.6">每天有效学习时间最好保持在5-6个小时。可</tspan><tspan x="1616" dy="17.4">以根据自己的情况合理的规划一下，例如：</tspan></text></g>
<g id="p1"><rect class="n" x="1916" y="6950" width="282" height="48.8" rx="2"/><text class="t"><tspan x="1923" y="6970.6">早上2个半小时，中午2个半小时，晚上1个小</tspan><tspan x="1923" dy="17.4">时</tspan></text></g>
<g id="p2"><rect class="n" x="1916" y="7027" width="282" height="48.8" rx="2"/><text class="t"><tspan x="1923" y="7047.6">学习时间最好固定在：上午8：30-11：30，</tspan><tspan x="1923" dy="17.4">下午14：30-17：30;晚上19：30-21：30。</tspan></text></g>
<g id="p3"><rect class="n" x="1916" y="7103" width="200" height="31.4" rx="2"/><text class="t"><tspan x="1923" y="7123.6">既不要睡懒觉，也不要开夜车。</tspan></text></g>

<g id="q1"><rect class="n" x="750" y="2091" width="175" height="31.4" rx="2"/><text class="t"><tspan x="757" y="2111.6">理规划时间，制定学习计划</tspan></text></g>
<g id="q2"><rect class="n" x="643" y="2149" width="282" height="153.2" rx="2"/><text class="t"><tspan x="650" y="2169.6">放假后的第一件事，应该是整理出可利用的时</tspan><tspan x="650" dy="17.4">间，做出时间安排表，以每一天为单位；接下</tspan><tspan x="650" dy="17.4">来，梳理自身学习情况，找出最需要提高或最</tspan><tspan x="650" dy="17.4">想做的事，合理分配复习和预习时间，有针对</tspan><tspan x="650" dy="17.4">性地制定假期学习计划。 呵呵，不要忘了，</tspan><tspan x="650" dy="17.4">一定要预留出锻炼身体和休闲活动的时间。一</tspan><tspan x="650" dy="17.4">旦制定就应该严格遵守。相信你的假期一定会</tspan><tspan x="650" dy="17.4">有意想不到的收获。</tspan></text></g>
<g id="q3"><rect class="n" x="736" y="2330" width="189" height="31.4" rx="2"/><text class="t"><tspan x="743" y="2350.6">确定学习目标，攻克薄弱环节</tspan></text></g>
<g id="q4"><rect class="n" x="643" y="2390" width="282" height="83.6" rx="2"/><text class="t"><tspan x="650" y="2410.6">今年的暑假假期较短，目标不宜太大、复习范</tspan><tspan x="650" dy="17.4">围不宜太广。如果想真正有收获，一定不要贪</tspan><tspan x="650" dy="17.4">多哟！适宜重点攻克薄弱学科、或某学科中的</tspan><tspan x="650" dy="17.4">重点内容。</tspan></text></g>
<g id="q5"><rect class="n" x="643" y="2501" width="282" height="48.8" rx="2"/><text class="t"><tspan x="650" y="2521.6">利用黄冈网校的网络资源，有效进行复习巩固</tspan><tspan x="650" dy="17.4">和预习提高</tspan></text></g>
<g id="q6"><rect class="n" x="715" y="2774" width="210" height="31.4" rx="2"/><text class="t"><tspan x="722" y="2794.6">1、利用网校现有资源进行复习：</tspan></text></g>
<g id="r1"><rect class="n" x="409" y="2576" width="282" height="101" rx="2"/><text class="t"><tspan x="416" y="2596.6">·上学期在课堂里平时没有来得及听完的课程</tspan><tspan x="416" dy="17.4">，或者没有弄懂的问题，可以利用假期结合"</tspan><tspan x="416" dy="17.4">学习区"里面的"名师面授"重新学习一遍。最</tspan><tspan x="416" dy="17.4">后实在还是没弄懂的可以到"名师答疑"里面提</tspan><tspan x="416" dy="17.4">问(24个小时之后)我们的老师会给你回复。</tspan></text></g>
<g id="r2"><rect class="n" x="409" y="2705" width="282" height="66.2" rx="2"/><text class="t"><tspan x="416" y="2725.6">·大家在网校上学习的时候一定要按我们教你</tspan><tspan x="416" dy="17.4">们的"四步学习法"——知识强化，名师面授</tspan><tspan x="416" dy="17.4">，智能测评，名师答疑来进行复习和预习。</tspan></text></g>
<g id="r3"><rect class="n" x="409" y="2799" width="282" height="83.6" rx="2"/><text class="t"><tspan x="416" y="2819.6">·网络教材：初中网络教材全部更新为配套资</tspan><tspan x="416" dy="17.4">源。含语文、英语、数学、物理、化学等各学</tspan><tspan x="416" dy="17.4">科的内容，与教科书完全同步，学生可利用假</tspan><tspan x="416" dy="17.4">期时间进行复习。</tspan></text></g>
<g id="r4"><rect class="n" x="409" y="2909" width="282" height="83.6" rx="2"/><text class="t"><tspan x="416" y="2929.6">·"智能测评"的难题反复推敲，重在理解解题</tspan><tspan x="416" dy="17.4">思路。对于由于知识点没弄懂而做错的题目及</tspan><tspan x="416" dy="17.4">时的放入到"我的错题本"里面做一个归纳，方</tspan><tspan x="416" dy="17.4">便你们以后的查阅和复习。</tspan></text></g>
<g id="q7"><rect class="n" x="782" y="3067" width="143" height="31.4" rx="2"/><text class="t"><tspan x="789" y="3087.6">2、预习下学期课程：</tspan></text></g>
<g id="s1"><rect class="n" x="476" y="3021" width="282" height="48.8" rx="2"/><text class="t"><tspan x="483" y="3041.6">·通过黄冈网校的网络教材，将下学期的课程</tspan><tspan x="483" dy="17.4">提前预习一遍，掌握各科下期的重难点。</tspan></text></g>
<g id="s2"><rect class="n" x="476" y="3096" width="282" height="48.8" rx="2"/><text class="t"><tspan x="483" y="3116.6">·预习的过程中碰到的不懂的问题要及时做记</tspan><tspan x="483" dy="17.4">录，以方便大家下学期课堂的学习。</tspan></text></g>

<g id="t1"><rect class="n" x="750" y="3173" width="175" height="31.4" rx="2"/><text class="t"><tspan x="757" y="3193.6">理规划时间，制定学习计划</tspan></text></g>
<g id="t2"><rect class="n" x="643" y="3232" width="282" height="101" rx="2"/><text class="t"><tspan x="650" y="3252.6">放假后的第一件事，应该是整理出可利用的时</tspan><tspan x="650" dy="17.4">间，做出时间安排表，以每一天为单位；接下</tspan><tspan x="650" dy="17.4">来，梳理自身学习情况，找出最需要提高或最</tspan><tspan x="650" dy="17.4">想做的事，合理分配复习和预习时间，有针对</tspan><tspan x="650" dy="17.4">性地制定假期学习计划。</tspan></text></g>
<g id="t3"><rect class="n" x="643" y="3360" width="282" height="153.2" rx="2"/><text class="t"><tspan x="650" y="3380.6">每天有效学习时间最好保持在5-6个小时。可</tspan><tspan x="650" dy="17.4">以根据自己的情况合理的规划一下，例如：(</tspan><tspan x="650" dy="17.4">早上2个半小时，中午2个半小时，晚上1个小</tspan><tspan x="650" dy="17.4">时)学习时间最好固定在：上午8：30-11：30</tspan><tspan x="650" dy="17.4">，下午14：30-17：30；晚上19：30-21：3</tspan><tspan x="650" dy="17.4">0。既不要睡懒觉，也不要开夜车。习惯比聪</tspan><tspan x="650" dy="17.4">明更重要！只要你按照计划来，每天坚持，你</tspan><tspan x="650" dy="17.4">的成绩不会没有进步的！</tspan></text></g>
<g id="t4"><rect class="n" x="643" y="3540" width="282" height="66.2" rx="2"/><text class="t"><tspan x="650" y="3560.6">呵呵，不要忘了，一定要预留出锻炼身体和休</tspan><tspan x="650" dy="17.4">闲活动的时间。一旦制定就应该严格遵守。相</tspan><tspan x="650" dy="17.4">信你的假期一定会有意想不到的收获。</tspan></text></g>
<g id="t5"><rect class="n" x="736" y="3634" width="189" height="31.4" rx="2"/><text class="t"><tspan x="743" y="3654.6">确定学习目标，攻克薄弱环节</tspan></text></g>
<g id="t6"><rect class="n" x="643" y="3693" width="282" height="66.2" rx="2"/><text class="t"><tspan x="650" y="3713.6">学习目标不宜太大、复习范围不宜太广。如果</tspan><tspan x="650" dy="17.4">想真正有收获，一定不要贪多哟！适宜重点攻</tspan><tspan x="650" dy="17.4">克薄弱学科、或某学科中的重点内容。</tspan></text></g>
<g id="t7"><rect class="n" x="643" y="3787" width="282" height="48.8" rx="2"/><text class="t"><tspan x="650" y="3807.6">利用网校的网络资源，有效进行复习巩固和预</tspan><tspan x="650" dy="17.4">习提高</tspan></text></g>
<g id="t8"><rect class="n" x="715" y="4073" width="210" height="31.4" rx="2"/><text class="t"><tspan x="722" y="4093.6">1、利用网校现有资源进行复习：</tspan></text></g>
<g id="u1"><rect class="n" x="409" y="3863" width="282" height="118.4" rx="2"/><text class="t"><tspan x="416" y="3883.6">·上学期在课堂里平时没有来得及听完的课程</tspan><tspan x="416" dy="17.4">，或者没有弄懂的问题，可以利用假期结合"</tspan><tspan x="416" dy="17.4">学习区"里面的"名师面授"重新学习一遍。最</tspan><tspan x="416" dy="17.4">后实在还是没弄懂的可以到"名师答疑"里面提</tspan><tspan x="416" dy="17.4">问(24个小时之后)我们的老师会给你回复。</tspan><tspan x="416" dy="17.4">本文由第 一1范8文网整理</tspan></text></g>
<g id="u2"><rect class="n" x="409" y="4009" width="282" height="66.2" rx="2"/><text class="t"><tspan x="416" y="4029.6">·大家在网校上学习的时候一定要按我们教你</tspan><tspan x="416" dy="17.4">们的"四步学习法"——知识强化，名师面授</tspan><tspan x="416" dy="17.4">，智能测评，名师答疑来进行复习和预习。</tspan></text></g>
<g id="u3"><rect class="n" x="409" y="4102" width="282" height="83.6" rx="2"/><text class="t"><tspan x="416" y="4122.6">·网络教材：初中网络教材全部更新为配套资</tspan><tspan x="416" dy="17.4">源。含语文、英语、数学、物理、化学等各学</tspan><tspan x="416" dy="17.4">科的内容，与教科书完全同步，学生可利用假</tspan><tspan x="416" dy="17.4">期时间进行复习。</tspan></text></g>
<g id="u4"><rect class="n" x="409" y="4214" width="282" height="83.6" rx="2"/><text class="t"><tspan x="416" y="4234.6">·"智能测评"的难题反复推敲，重在理解解题</tspan><tspan x="416" dy="17.4">思路。对于由于知识点没弄懂而做错的题目及</tspan><tspan x="416" dy="17.4">时的放入到"我的错题本"里面做一个归纳，方</tspan><tspan x="416" dy="17.4">便你们以后的查阅和复习。</tspan></text></g>
<g id="t9"><rect class="n" x="782" y="4410" width="143" height="31.4" rx="2"/><text class="t"><tspan x="789" y="4430.6">2、预习下学期课程：</tspan></text></g>
<g id="v1"><rect class="n" x="476" y="4325" width="282" height="48.8" rx="2"/><text class="t"><tspan x="483" y="4345.6">·通过网校的网络教材，将下学期的课程提前</tspan><tspan x="483" dy="17.4">预习一遍，掌握各科下期的重难点。</tspan></text></g>
<g id="v2"><rect class="n" x="476" y="4402" width="282" height="48.8" rx="2"/><text class="t"><tspan x="483" y="4422.6">·预习的过程中碰到的不懂的问题要及时做记</tspan><tspan x="483" dy="17.4">录，以方便大家下学期课堂的学习。</tspan></text></g>
<g id="v3"><rect class="n" x="476" y="4478" width="282" height="48.8" rx="2"/><text class="t"><tspan x="483" y="4498.6">·在学习过程中遇到的疑问，可以通过"名师答</tspan><tspan x="483" dy="17.4">疑"向老师请教。</tspan></text></g>

<g id="kw"><rect class="n" x="643" y="5351" width="282" height="48.8" rx="2"/><text class="t"><tspan x="650" y="5371.6">【关键词】学讲计划 探究性学习 合作讨论 创</tspan><tspan x="650" dy="17.4">新</tspan></text></g>
<g id="w1"><rect class="n" x="337" y="4554" width="281" height="240.2" rx="2"/><text class="t"><tspan x="344" y="4574.6">由徐州市教研室倡导和大力推行的学讲模式在</tspan><tspan x="344" dy="17.4">徐州大地已经推广数年。学讲模式与新课程改</tspan><tspan x="344" dy="17.4">革理念一脉相承，深受广大教师的支持。本人</tspan><tspan x="344" dy="17.4">通过学讲计划的学习，并与探究性学习相结合</tspan><tspan x="344" dy="17.4">，取得了不错的教学成果，与大家一起分享。</tspan><tspan x="344" dy="17.4">初中物理教学中，研究性学习策略的运用可以</tspan><tspan x="344" dy="17.4">引发学生物理学习动机，由被动接受知识转变</tspan><tspan x="344" dy="17.4">为主动地探究知识，能有效启发学生的创新思</tspan><tspan x="344" dy="17.4">维，激发学生的创新意识。在《课准》中有许</tspan><tspan x="344" dy="17.4">多必须进行的"探究活动点"，通过科学探究，</tspan><tspan x="344" dy="17.4">使学生经历基本的科学探究过程，学习科学探</tspan><tspan x="344" dy="17.4">究方法，发展初步的科学探究能力，形成尊重</tspan><tspan x="344" dy="17.4">事实、探索真理的科学态度。</tspan></text></g>
<g id="w2"><rect class="n" x="417" y="4975" width="201" height="31.4" rx="2"/><text class="t"><tspan x="424" y="4995.6">一、探究自主学习中发现的问题</tspan></text></g>
<g id="x1"><rect class="n" x="111" y="4818" width="282" height="344.6" rx="2"/><text class="t"><tspan x="118" y="4838.6">自主学习是学讲的基础，通过自主W习解决</tspan><tspan x="118" dy="17.4">大部分的基础性问题。这种探究体现了收集和</tspan><tspan x="118" dy="17.4">整理信息的能力。让学生先学，教师应根据学</tspan><tspan x="118" dy="17.4">生的学情，结合教材的难易程度，给学生设计</tspan><tspan x="118" dy="17.4">出不同梯度的问题。然而总归会有个别同学由</tspan><tspan x="118" dy="17.4">于理解力问题存在，对知识把握的偏差。这要</tspan><tspan x="118" dy="17.4">求教师在巡视中，及时把握学生的自主学习动</tspan><tspan x="118" dy="17.4">态，引导学生，对教材再次阅读去探究所出现</tspan><tspan x="118" dy="17.4">的问题。如《长度和时间的测量》一课内容简</tspan><tspan x="118" dy="17.4">单，但学生容易忽视很多知识，在运用中容易</tspan><tspan x="118" dy="17.4">犯错。所以在学生展示长度的各种测量工具的</tspan><tspan x="118" dy="17.4">同时，我不失时机地引导学生去观察分析概括</tspan><tspan x="118" dy="17.4">这些测量工具的共同点：都有零刻度线，有各</tspan><tspan x="118" dy="17.4">自的量程和分度值。进一步探讨他们的使用规</tspan><tspan x="118" dy="17.4">则和读数方法并选取一组同学的测量实验发现</tspan><tspan x="118" dy="17.4">物体一端对准0刻度线另一端对在了两个刻度</tspan><tspan x="118" dy="17.4">线之间，进行探讨。从而引出了准确值和分度</tspan><tspan x="118" dy="17.4">值。然后我延伸如果是一个刻度尺，从中间断</tspan><tspan x="118" dy="17.4">了，怎么使用。</tspan></text></g>
<g id="w3"><rect class="n" x="378" y="5336" width="240" height="31.4" rx="2"/><text class="t"><tspan x="385" y="5356.6">二、探究学讲环节中，"讲不透"的问题</tspan></text></g>
<g id="x2"><rect class="n" x="72" y="5188" width="282" height="327.2" rx="2"/><text class="t"><tspan x="79" y="5208.6">当后进生出现问题时，小组内优秀同学帮助进</tspan><tspan x="79" dy="17.4">行探究。这种探究不是简单地告诉学习答案在</tspan><tspan x="79" dy="17.4">什么地方，而是帮助组员弄清楚知识的来龙去</tspan><tspan x="79" dy="17.4">脉。物理教材中有留给学生去验证某些的原理</tspan><tspan x="79" dy="17.4">，要求学生找出相关的材料去验证，但学生缺</tspan><tspan x="79" dy="17.4">乏这方面材料，所以学生需要利用教师、网络</tspan><tspan x="79" dy="17.4">去探索。如前后知识之间的联系，新知识点之</tspan><tspan x="79" dy="17.4">间跨度大，这种综合性较强的知识结构就会给</tspan><tspan x="79" dy="17.4">学生带来困难，导致学生混淆的知识，如重力</tspan><tspan x="79" dy="17.4">和压力；功和能。教师照本宣科，直接将答案</tspan><tspan x="79" dy="17.4">告诉学生，一是难以激发学生的学习兴趣，二</tspan><tspan x="79" dy="17.4">是遏制学生创新意识与能力的培养。此时，研</tspan><tspan x="79" dy="17.4">究性教学策略的运用无疑会鼓励学生自己去探</tspan><tspan x="79" dy="17.4">索其中的奥妙，寻找问题的答案。如在"探究</tspan><tspan x="79" dy="17.4">滑动变阻器"一框变阻器接入电路的正确方法</tspan><tspan x="79" dy="17.4">时，为了更加直观明了，物理课代表从网上找</tspan><tspan x="79" dy="17.4">来了flas；另一同学则从实验室借到一个变阻</tspan><tspan x="79" dy="17.4">器，现场拆卸一个看其内部结构。</tspan></text></g>
<g id="w4"><rect class="n" x="363" y="5812" width="255" height="31.4" rx="2"/><text class="t"><tspan x="370" y="5832.6">三、探究实验中没有达到实验目的的环节</tspan></text></g>
<g id="x3"><rect class="n" x="57" y="5539" width="282" height="240.2" rx="2"/><text class="t"><tspan x="64" y="5559.6">当学生知识产生的问题并进行质疑时，教师要</tspan><tspan x="64" dy="17.4">善于点拨、诱导，鼓励学生发挥想象力，各抒</tspan><tspan x="64" dy="17.4">己见，提出问题，进行假设和验证。做实验学</tspan><tspan x="64" dy="17.4">生总是很兴奋甚至跃跃欲试，教师应该创造条</tspan><tspan x="64" dy="17.4">件满足学生的实验需求，鼓励大家对实验活动</tspan><tspan x="64" dy="17.4">的器材进行自己的改造和建议。对于实验中出</tspan><tspan x="64" dy="17.4">现的偏差甚至与教材相反的结论，教师应鼓励</tspan><tspan x="64" dy="17.4">学生对实验过程进行分析，找出原因、改进措</tspan><tspan x="64" dy="17.4">施，然后再次进行实验，得出正确的结论。可</tspan><tspan x="64" dy="17.4">能有的学生提出的问题多此一举，却正是非常</tspan><tspan x="64" dy="17.4">有价值的奇思妙想。这种头脑风暴培养学生的</tspan><tspan x="64" dy="17.4">探究能力、创新能力，质疑问难能力有着不可</tspan><tspan x="64" dy="17.4">估量的作用。</tspan></text></g>
<g id="x4"><rect class="n" x="57" y="5807" width="282" height="118.4" rx="2"/><text class="t"><tspan x="64" y="5827.6">如：每组一大桶水放一个气球让学生用手往下</tspan><tspan x="64" dy="17.4">慢慢的压感受一下浮力，再根据自己的感受去</tspan><tspan x="64" dy="17.4">猜想浮力的大小与什么因素有关呢？学生猜想</tspan><tspan x="64" dy="17.4">得出：①可能与液体的密度有关；可能与物体</tspan><tspan x="64" dy="17.4">浸入液体的体积有关；③可能与物体浸入液体</tspan><tspan x="64" dy="17.4">的深度有关……</tspan></text></g>
<g id="x5"><rect class="n" x="57" y="5951" width="282" height="83.6" rx="2"/><text class="t"><tspan x="64" y="5971.6">实验验证：浸在液体中的物体所受的浮力与物</tspan><tspan x="64" dy="17.4">体排开液体的体积有关；浸没在液体中的物体</tspan><tspan x="64" dy="17.4">所受的浮力与物体在液体中的深度无关；浸在</tspan><tspan x="64" dy="17.4">液体中的物体所受的浮力与液体的密度有关。</tspan></text></g>
<g id="w5"><rect class="n" x="444" y="6064" width="174" height="31.4" rx="2"/><text class="t"><tspan x="451" y="6084.6">四、探究练习中出现的问题</tspan></text></g>
</g>
</svg>
